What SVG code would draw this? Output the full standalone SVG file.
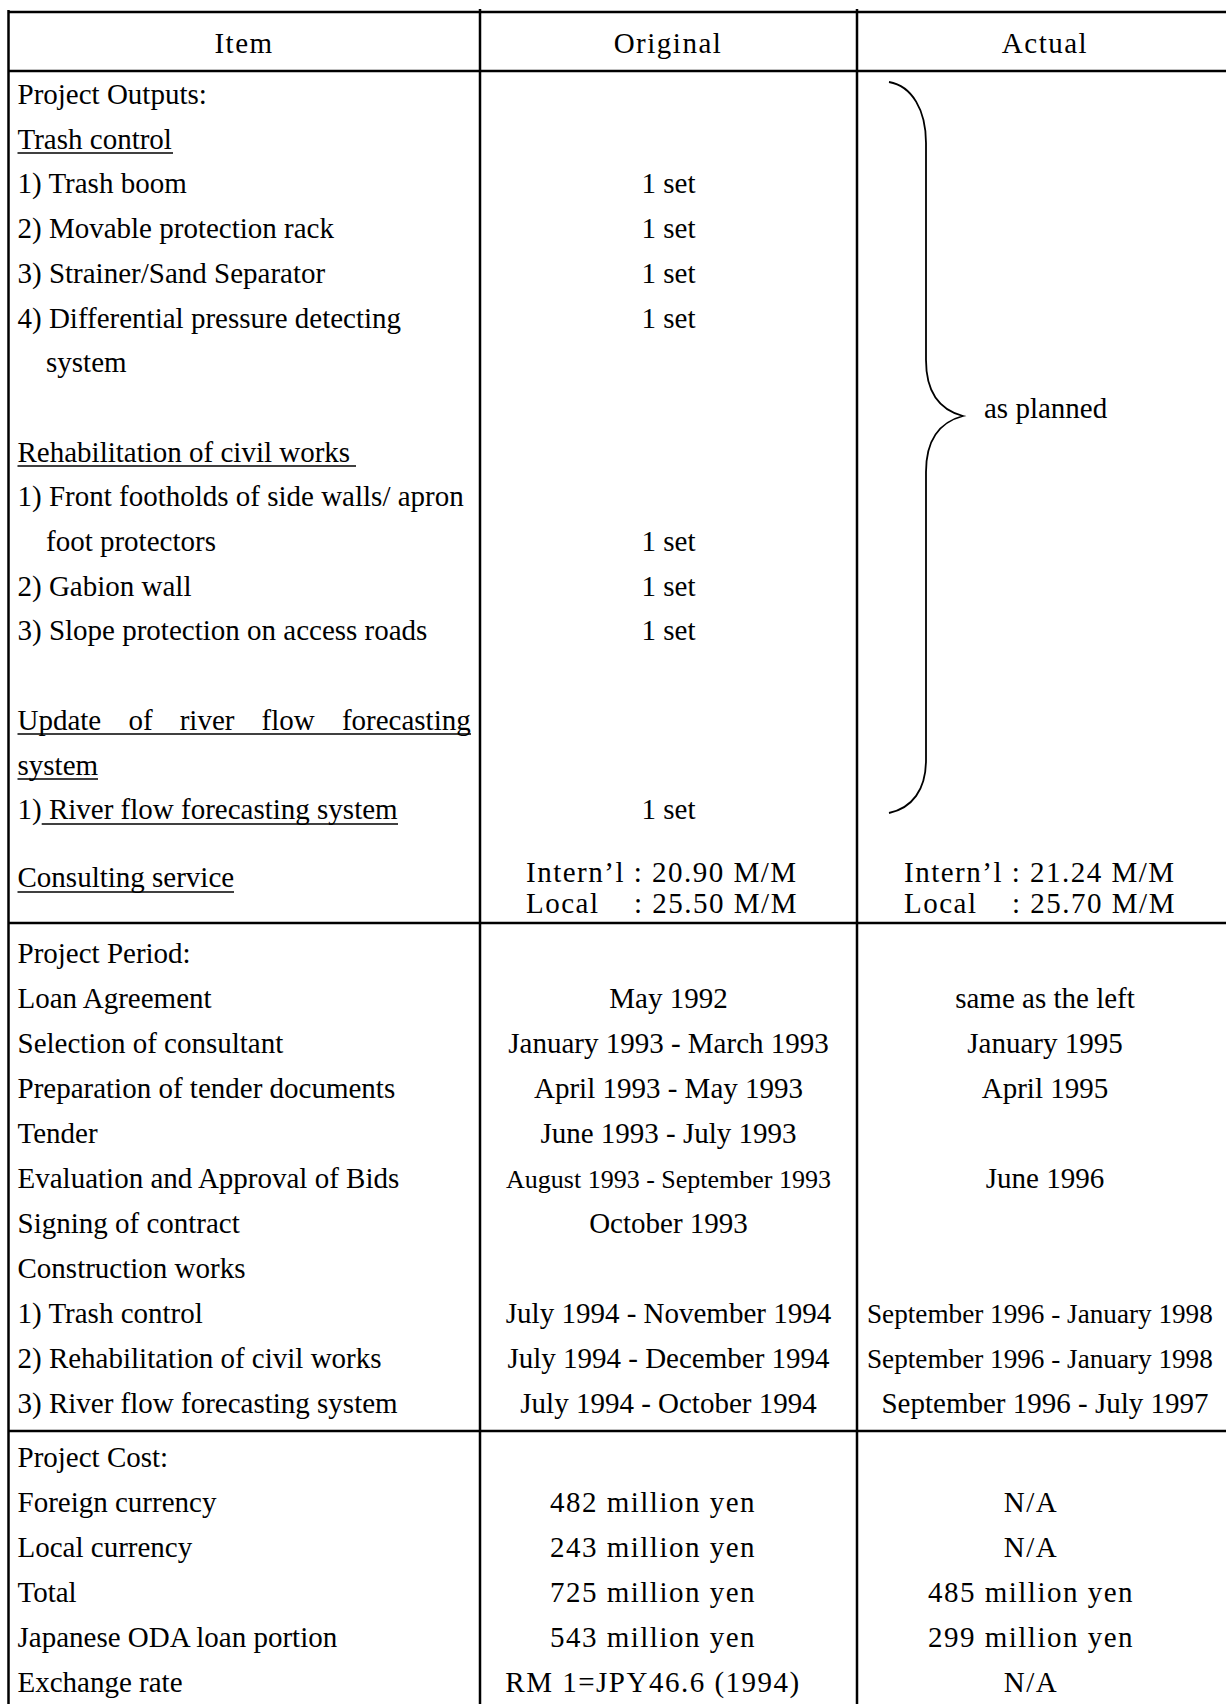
<svg xmlns="http://www.w3.org/2000/svg" width="1226" height="1704" viewBox="0 0 1226 1704">
<style>
.t { font-family: "Liberation Serif", "Times New Roman", serif; font-size: 29px; fill: #000; }
.c { text-anchor: middle; }
.sp { letter-spacing: 1.5px; }
.sm { font-size: 26px; }
.nar { font-size: 27.2px; }
.ln { stroke: #000; stroke-width: 2.5; fill: none; }
.ul { stroke: #000; stroke-width: 1.6; fill: none; }
.br { stroke: #000; stroke-width: 1.8; fill: none; }
</style>
<rect x="0" y="0" width="1226" height="1704" fill="#fff"/>

<g id="grid">
  <line class="ln" x1="8.5" y1="12" x2="1226" y2="12"/>
  <line class="ln" x1="8.5" y1="71" x2="1226" y2="71"/>
  <line class="ln" x1="8.5" y1="923" x2="1226" y2="923"/>
  <line class="ln" x1="8.5" y1="1431" x2="1226" y2="1431"/>
  <line class="ln" x1="8.5" y1="10" x2="8.5" y2="1704"/>
  <line class="ln" x1="480" y1="9" x2="480" y2="1704"/>
  <line class="ln" x1="857" y1="9" x2="857" y2="1704"/>
</g>

<g id="header">
  <text class="t c sp" x="244" y="53">Item</text>
  <text class="t c sp" x="668" y="53">Original</text>
  <text class="t c sp" x="1045" y="53">Actual</text>
</g>

<g id="outputs-item">
  <text class="t" x="17.5" y="104">Project Outputs:</text>
  <text class="t" x="17.5" y="148.7">Trash control</text>
  <line class="ul" x1="17.5" y1="153" x2="173" y2="153"/>
  <text class="t" x="17.5" y="193.4">1) Trash boom</text>
  <text class="t" x="17.5" y="238.1">2) Movable protection rack</text>
  <text class="t" x="17.5" y="282.8">3) Strainer/Sand Separator</text>
  <text class="t" x="17.5" y="327.5">4) Differential pressure detecting</text>
  <text class="t" x="46" y="372.2">system</text>
  <text class="t" x="17.5" y="461.6">Rehabilitation of civil works</text>
  <line class="ul" x1="17.5" y1="466" x2="356" y2="466"/>
  <text class="t" x="17.5" y="506.3">1) Front footholds of side walls/ apron</text>
  <text class="t" x="46" y="551">foot protectors</text>
  <text class="t" x="17.5" y="595.7">2) Gabion wall</text>
  <text class="t" x="17.5" y="640.4">3) Slope protection on access roads</text>
  <text class="t" x="17.5" y="729.8">Update</text>
  <text class="t" x="128.4" y="729.8">of</text>
  <text class="t" x="179.7" y="729.8">river</text>
  <text class="t" x="261.6" y="729.8">flow</text>
  <text class="t" x="341.9" y="729.8">forecasting</text>
  <line class="ul" x1="17.5" y1="734" x2="471" y2="734"/>
  <text class="t" x="17.5" y="774.5">system</text>
  <line class="ul" x1="17.5" y1="779" x2="98" y2="779"/>
  <text class="t" x="17.5" y="819.2">1) River flow forecasting system</text>
  <line class="ul" x1="41.7" y1="824" x2="398" y2="824"/>
  <text class="t" x="17.5" y="887">Consulting service</text>
  <line class="ul" x1="17.5" y1="892" x2="234" y2="892"/>
</g>

<g id="outputs-original">
  <text class="t c" x="668.5" y="193.4">1 set</text>
  <text class="t c" x="668.5" y="238.1">1 set</text>
  <text class="t c" x="668.5" y="282.8">1 set</text>
  <text class="t c" x="668.5" y="327.5">1 set</text>
  <text class="t c" x="668.5" y="551">1 set</text>
  <text class="t c" x="668.5" y="595.7">1 set</text>
  <text class="t c" x="668.5" y="640.4">1 set</text>
  <text class="t c" x="668.5" y="819.2">1 set</text>
  <text class="t sp" x="526" y="882">Intern’l : 20.90 M/M</text>
  <text class="t sp" y="913"><tspan x="526">Local</tspan><tspan x="634">: 25.50 M/M</tspan></text>
</g>

<g id="outputs-actual">
  <text class="t" x="984" y="418">as planned</text>
  <text class="t sp" x="904" y="882">Intern’l : 21.24 M/M</text>
  <text class="t sp" y="913"><tspan x="904">Local</tspan><tspan x="1012">: 25.70 M/M</tspan></text>
</g>

<g id="connectors">
  <path class="br" d="M889,82 C912,86 926,110 926,143 L926,360 C926,392 940,410 963,416 C940,422 926,440 926,472 L926,760 C926,790 912,808 889,813"/>
</g>

<g id="period-item">
  <text class="t" x="17.5" y="963">Project Period:</text>
  <text class="t" x="17.5" y="1008">Loan Agreement</text>
  <text class="t" x="17.5" y="1053">Selection of consultant</text>
  <text class="t" x="17.5" y="1098">Preparation of tender documents</text>
  <text class="t" x="17.5" y="1143">Tender</text>
  <text class="t" x="17.5" y="1188">Evaluation and Approval of Bids</text>
  <text class="t" x="17.5" y="1233">Signing of contract</text>
  <text class="t" x="17.5" y="1278">Construction works</text>
  <text class="t" x="17.5" y="1323">1) Trash control</text>
  <text class="t" x="17.5" y="1368">2) Rehabilitation of civil works</text>
  <text class="t" x="17.5" y="1413">3) River flow forecasting system</text>
</g>

<g id="period-original">
  <text class="t c" x="668.5" y="1008">May 1992</text>
  <text class="t c" x="668.5" y="1053">January 1993 - March 1993</text>
  <text class="t c" x="668.5" y="1098">April 1993 - May 1993</text>
  <text class="t c" x="668.5" y="1143">June 1993 - July 1993</text>
  <text class="t c sm" x="668.5" y="1188">August 1993 - September 1993</text>
  <text class="t c" x="668.5" y="1233">October 1993</text>
  <text class="t c" x="668.5" y="1323">July 1994 - November 1994</text>
  <text class="t c" x="668.5" y="1368">July 1994 - December 1994</text>
  <text class="t c" x="668.5" y="1413">July 1994 - October 1994</text>
</g>

<g id="period-actual">
  <text class="t c" x="1045" y="1008">same as the left</text>
  <text class="t c" x="1045" y="1053">January 1995</text>
  <text class="t c" x="1045" y="1098">April 1995</text>
  <text class="t c" x="1045" y="1188">June 1996</text>
  <text class="t nar" x="867" y="1323">September 1996 - January 1998</text>
  <text class="t nar" x="867" y="1368">September 1996 - January 1998</text>
  <text class="t c" x="1045" y="1413">September 1996 - July 1997</text>
</g>

<g id="cost-item">
  <text class="t" x="17.5" y="1467">Project Cost:</text>
  <text class="t" x="17.5" y="1512">Foreign currency</text>
  <text class="t" x="17.5" y="1557">Local currency</text>
  <text class="t" x="17.5" y="1602">Total</text>
  <text class="t" x="17.5" y="1647">Japanese ODA loan portion</text>
  <text class="t" x="17.5" y="1692">Exchange rate</text>
</g>

<g id="cost-original">
  <text class="t c sp" x="653" y="1512">482 million yen</text>
  <text class="t c sp" x="653" y="1557">243 million yen</text>
  <text class="t c sp" x="653" y="1602">725 million yen</text>
  <text class="t c sp" x="653" y="1647">543 million yen</text>
  <text class="t c sp" x="653" y="1692">RM 1=JPY46.6 (1994)</text>
</g>

<g id="cost-actual">
  <text class="t c sp" x="1031" y="1512">N/A</text>
  <text class="t c sp" x="1031" y="1557">N/A</text>
  <text class="t c sp" x="1031" y="1602">485 million yen</text>
  <text class="t c sp" x="1031" y="1647">299 million yen</text>
  <text class="t c sp" x="1031" y="1692">N/A</text>
</g>
</svg>
